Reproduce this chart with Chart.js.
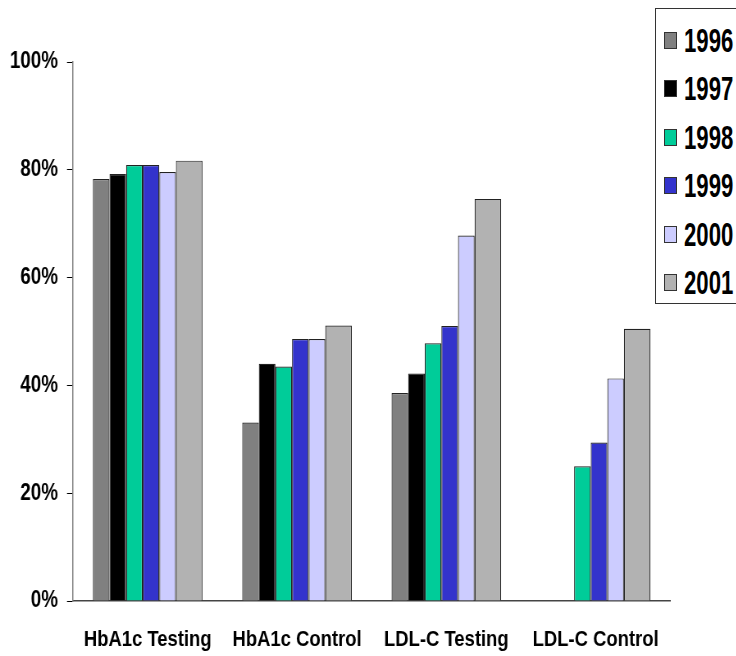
<!DOCTYPE html>
<html>
<head>
<meta charset="utf-8">
<script src="https://cdn.jsdelivr.net/npm/chart.js@4"></script>
<style>
  html, body { margin: 0; padding: 0; background: #fff; }
  #wrap { position: relative; width: 736px; height: 656px; overflow: hidden; }
  /* canvas is drawn wide, then squeezed to give the narrow lettering of the original */
  #chart { position: absolute; left: 0; top: 0; transform: scaleX(0.82); transform-origin: 0 0; }
  #legend {
    position: absolute; left: 655px; top: 8px; width: 100px; height: 294px;
    border: 1px solid #333; background: #fff;
    font-family: "Liberation Sans", Arial, sans-serif;
    font-weight: bold;
  }
  .item { position: absolute; left: 0; height: 30px; }
  .swatch { position: absolute; left: 8px; top: 6px; width: 13px; height: 17px; border: 1px solid #333; box-sizing: border-box; }
  .label { position: absolute; left: 28px; top: 0; font-size: 27px; line-height: 30px; transform: scale(0.82, 1.25); transform-origin: left center; color: #000; }
</style>
</head>
<body>
<div id="wrap">
  <canvas id="chart" width="898" height="656"></canvas>
  <div id="legend"></div>
</div>
<script>
// ── Data ──────────────────────────────────────────────────
const categories = ['HbA1c Testing', 'HbA1c Control', 'LDL-C Testing', 'LDL-C Control'];
const years      = ['1996', '1997', '1998', '1999', '2000', '2001'];

const v1996 = [78.3, 33.1, 38.6, null];
const v1997 = [79.2, 44.0, 42.2, null];
const v1998 = [80.9, 43.5, 47.8, 25.0];
const v1999 = [80.9, 48.6, 51.0, 29.4];
const v2000 = [79.6, 48.6, 67.8, 41.3];
const v2001 = [81.7, 51.1, 74.6, 50.5];

const yTicks = [0, 20, 40, 60, 80, 100];

// ── Style ─────────────────────────────────────────────────
const colors = ['#808080', '#000000', '#00CC99', '#3333CC', '#CCCCFF', '#B2B2B2'];
const FONT = '"Liberation Sans", Arial, sans-serif';
const SX = 0.82;   // horizontal squeeze applied to the canvas

// last bar in each group is wider than the others (as in the original)
const unit = 0.1112;                       // bar width as a fraction of the category
const slotWidths = [1, 1, 1, 1, 1, 1.6].map(w => w * unit);

function barLayout(i) {
  const n = slotWidths.length;
  const total = slotWidths.reduce((a, b) => a + b, 0);
  let left = -total / 2;
  for (let j = 0; j < i; j++) left += slotWidths[j];
  const offset = left + slotWidths[i] / 2;
  const factor = (i + 0.5) / n - 0.5;
  const cat = offset / factor;
  return { categoryPercentage: cat, barPercentage: slotWidths[i] * n / cat };
}

const series = [v1996, v1997, v1998, v1999, v2000, v2001];

const datasets = series.map((data, i) => Object.assign({
  label: years[i],
  data,
  backgroundColor: colors[i],
  borderColor: '#222',
  borderWidth: 1.2,
  borderSkipped: 'bottom',
}, barLayout(i)));

// ── Legend (HTML) ─────────────────────────────────────────
const legendEl = document.getElementById('legend');
years.forEach((y, i) => {
  const item = document.createElement('div');
  item.className = 'item';
  item.style.top = (17 + i * 48.4) + 'px';
  item.innerHTML = `<div class="swatch" style="background:${colors[i]}"></div><div class="label">${y}</div>`;
  legendEl.appendChild(item);
});

// ── Chart ─────────────────────────────────────────────────
new Chart(document.getElementById('chart'), {
  type: 'bar',
  data: { labels: categories, datasets },
  options: {
    responsive: false,
    animation: false,
    layout: { padding: { top: 62, right: 66 / SX, left: 0, bottom: 0 } },
    plugins: { legend: { display: false }, tooltip: { enabled: false } },
    scales: {
      x: {
        grid: { display: false },
        border: { display: true, color: '#444', width: 1.5 },
        ticks: {
          color: '#000', padding: 17, maxRotation: 0, autoSkip: false,
          font: { family: FONT, size: 22.5, weight: 'bold' },
        },
        afterFit: s => { s.height = 55; },
      },
      y: {
        min: 0,
        max: 100,
        afterBuildTicks: s => { s.ticks = yTicks.map(v => ({ value: v })); },
        grid: { drawOnChartArea: false, drawTicks: true, tickLength: 6 / SX, color: '#000' },
        border: { display: true, color: '#808080', width: 1.5 },
        ticks: {
          color: '#000', padding: 9 / SX,
          font: { family: FONT, size: 23, weight: 'bold' },
          callback: v => v + '%',
        },
        afterFit: s => { s.width = 73 / SX; },
      },
    },
  },
});
</script>
</body>
</html>
